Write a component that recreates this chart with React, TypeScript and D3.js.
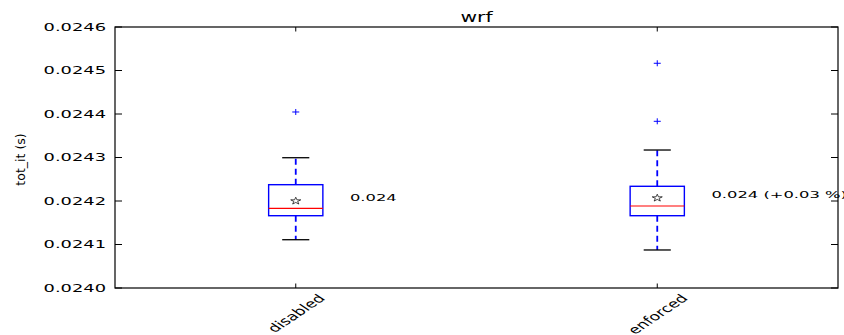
import React, { useRef, useEffect } from 'react';
import * as d3 from 'd3';

// box plot stats
const categories = ['disabled', 'enforced'];
const whiskerLows = [0.024111, 0.0240874];
const q1s = [0.0241662, 0.0241662];
const medians = [0.0241832, 0.0241885];
const q3s = [0.0242375, 0.0242338];
const whiskerHighs = [0.0242995, 0.0243172];
const means = [0.02420, 0.0242069];
const fliers = [[0.0244046], [0.0245166, 0.0243832]];
const annotations = ['0.024', '0.024 (+0.03 %)'];
const yTicks = [0.0240, 0.0241, 0.0242, 0.0243, 0.0244, 0.0245, 0.0246];

const FONT = 'DejaVu Sans';

const App = () => {
    const ref = useRef<SVGSVGElement>(null);

    useEffect(() => {
        const svg = d3.select(ref.current);
        svg.selectAll('*').remove();

        const left = 115, right = 838, top = 27, bottom = 288;
        const x = d3.scaleLinear().domain([0.5, 2.5]).range([left, right]);
        const y = d3.scaleLinear().domain([0.0240, 0.0246]).range([bottom, top]);
        const boxW = x(1.075) - x(0.925);
        const capW = x(1.0375) - x(0.9625);

        const g = svg.append('g');

        // boxes
        categories.forEach((c, i) => {
            const cx = x(i + 1);
            // whiskers
            g.append('line')
                .attr('x1', cx).attr('x2', cx)
                .attr('y1', y(q3s[i])).attr('y2', y(whiskerHighs[i]))
                .attr('stroke', '#0000ff').attr('stroke-width', 1.8)
                .attr('stroke-dasharray', '6,4');
            g.append('line')
                .attr('x1', cx).attr('x2', cx)
                .attr('y1', y(q1s[i])).attr('y2', y(whiskerLows[i]))
                .attr('stroke', '#0000ff').attr('stroke-width', 1.8)
                .attr('stroke-dasharray', '6,4');
            // caps
            [whiskerHighs[i], whiskerLows[i]].forEach(v => {
                g.append('line')
                    .attr('x1', cx - capW / 2).attr('x2', cx + capW / 2)
                    .attr('y1', y(v)).attr('y2', y(v))
                    .attr('stroke', '#000').attr('stroke-width', 1.3);
            });
            // box
            g.append('rect')
                .attr('x', cx - boxW / 2).attr('width', boxW)
                .attr('y', y(q3s[i])).attr('height', y(q1s[i]) - y(q3s[i]))
                .attr('fill', 'none').attr('stroke', '#0000ff').attr('stroke-width', 1.4);
            // median
            g.append('line')
                .attr('x1', cx - boxW / 2).attr('x2', cx + boxW / 2)
                .attr('y1', y(medians[i])).attr('y2', y(medians[i]))
                .attr('stroke', '#ff0000').attr('stroke-width', 1.2);
            // fliers
            fliers[i].forEach(v => {
                g.append('path')
                    .attr('d', `M${cx - 3.5},${y(v)}H${cx + 3.5}M${cx},${y(v) - 3}V${y(v) + 3}`)
                    .attr('stroke', '#0000ff').attr('stroke-width', 1);
            });
            // mean star
            g.append('path')
                .attr('d', d3.symbol().type(d3.symbolStar).size(16)())
                .attr('transform', `translate(${cx},${y(means[i])}) scale(1.4,1)`)
                .attr('fill', '#fff').attr('stroke', '#000').attr('stroke-width', 0.6);
            // annotation
            g.append('text')
                .attr('transform', `translate(${x(i + 1.15)},${y(means[i])}) scale(1.72,1)`)
                .attr('font-family', FONT).attr('font-size', 9.5)
                .attr('fill', '#000')
                .text(annotations[i]);
        });

        // frame
        g.append('rect')
            .attr('x', left).attr('y', top)
            .attr('width', right - left).attr('height', bottom - top)
            .attr('fill', 'none').attr('stroke', '#000').attr('stroke-width', 1.2);

        // y ticks (inward, both sides)
        yTicks.forEach(t => {
            g.append('line').attr('x1', left).attr('x2', left + 7)
                .attr('y1', y(t)).attr('y2', y(t)).attr('stroke', '#000');
            g.append('line').attr('x1', right).attr('x2', right - 7)
                .attr('y1', y(t)).attr('y2', y(t)).attr('stroke', '#000');
            g.append('text')
                .attr('transform', `translate(106,${y(t)}) scale(1.7,1)`)
                .attr('text-anchor', 'end').attr('dominant-baseline', 'central')
                .attr('font-family', FONT).attr('font-size', 10.5)
                .attr('fill', '#000')
                .text(d3.format('.4f')(t));
        });

        // x ticks and rotated labels
        categories.forEach((c, i) => {
            const cx = x(i + 1);
            g.append('line').attr('x1', cx).attr('x2', cx)
                .attr('y1', bottom).attr('y2', bottom - 4.5).attr('stroke', '#000');
            g.append('line').attr('x1', cx).attr('x2', cx)
                .attr('y1', top).attr('y2', top + 4.5).attr('stroke', '#000');
            const fs = 11.5;
            const t = g.append('text')
                .attr('text-anchor', 'middle').attr('dominant-baseline', 'central')
                .attr('font-family', FONT).attr('font-size', fs)
                .attr('fill', '#000')
                .text(c);
            const len = (t.node() as SVGTextElement).getComputedTextLength();
            const h = (len + fs) * Math.SQRT1_2;
            t.attr('transform', `translate(${cx},${bottom + 4 + h / 2}) scale(1.5,1) rotate(-45)`);
        });

        // title
        g.append('text')
            .attr('transform', `translate(${(left + right) / 2},22) scale(1.45,1)`)
            .attr('text-anchor', 'middle')
            .attr('font-family', FONT).attr('font-size', 14)
            .attr('fill', '#000')
            .text('wrf');

        // y label
        g.append('text')
            .attr('transform', `translate(20,${(top + bottom) / 2 + 2}) rotate(-90)`)
            .attr('text-anchor', 'middle').attr('dominant-baseline', 'central')
            .attr('font-family', FONT).attr('font-size', 12.5)
            .attr('fill', '#000')
            .text('tot_it (s)');
    }, []);

    return (
        <svg ref={ref} width={844} height={335}
            style={{ position: 'absolute', left: 0, top: 0, background: '#fff' }} />
    );
};

export default App;
